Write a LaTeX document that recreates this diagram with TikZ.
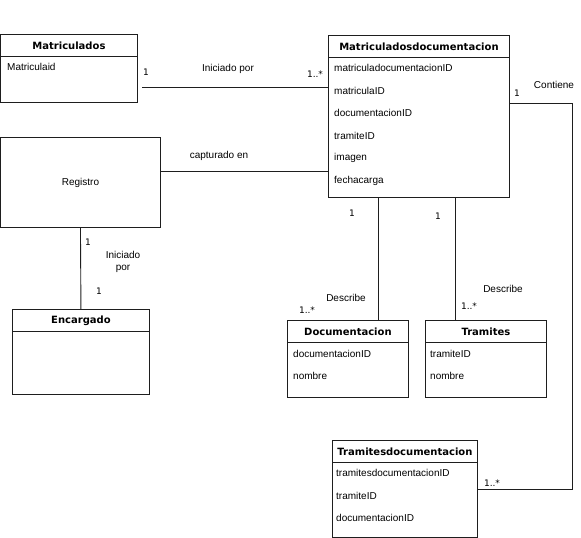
\documentclass[tikz,border=0pt]{standalone}
\usepackage{fontspec}
\setmainfont{Liberation Sans}
\newfontfamily\vfont{DejaVu Sans}
\usepackage{tikz}
\usetikzlibrary{calc,positioning}
\definecolor{ink}{RGB}{30,30,30}
\tikzset{
  ent/.style={draw=ink,line width=0.9pt,anchor=north west,inner sep=0pt,
    font=\fontsize{10}{12}\selectfont},
  hdr/.style={inner sep=0pt,font=\vfont\bfseries\fontsize{10}{12}\selectfont},
  attr/.style={anchor=west,inner sep=0pt,font=\fontsize{10}{12}\selectfont},
  rel/.style={draw=ink,line width=0.9pt},
  lbl/.style={inner sep=0pt,font=\fontsize{10}{12}\selectfont,align=center},
  mult/.style={inner sep=0pt,font=\vfont\fontsize{9}{11}\selectfont},
}
% name, x, y, width, height, title
\newcommand{\entbox}[6]{%
  \node[ent,minimum width=#4pt,minimum height=#5pt] (#1) at (#2,#3) {};
  \node[hdr] (#1t) at ($(#1.north)+(0,-11.5pt)$) {#6};
  \draw[rel] ($(#1.north west)+(0,-22.5pt)$) -- ($(#1.north east)+(0,-22.5pt)$);
}

\begin{document}
\begin{tikzpicture}[x=1pt,y=-1pt]
\useasboundingbox (0,0) rectangle (581,538);

% entities
\entbox{matr}{0}{34}{137}{68}{Matriculados}
\entbox{md}{328}{35}{181}{162}{Matriculadosdocumentacion}
\entbox{enc}{12}{309}{137}{85}{Encargado}
\entbox{doc}{287}{320}{121}{77}{Documentacion}
\entbox{tra}{425}{320}{121}{77}{Tramites}
\entbox{td}{332}{440}{145}{97}{Tramitesdocumentacion}
\node[ent,minimum width=160pt,minimum height=90pt] (reg) at (0,137) {Registro};

% attributes
\node[attr] (matr1) at (7,67) {Matriculaid};
\foreach \t [count=\i] in {matriculadocumentacionID,matriculaID,documentacionID,
    tramiteID,imagen,fechacarga}{
  \node[attr] (md\i) at (334,{68+(\i-1)*22.6}) {\t};}
\foreach \t [count=\i] in {documentacionID,nombre}{
  \node[attr] (doc\i) at (293,{354+(\i-1)*22}) {\t};}
\foreach \t [count=\i] in {tramiteID,nombre}{
  \node[attr] (tra\i) at (430,{354+(\i-1)*22}) {\t};}
\foreach \t [count=\i] in {tramitesdocumentacionID,tramiteID,documentacionID}{
  \node[attr] (td\i) at (336,{473+(\i-1)*22.5}) {\t};}

% relations
\coordinate (a1) at (142,87);
\draw[rel] (a1) -- (md.west |- a1);
\path ([yshift=11pt]reg.east) coordinate (c1);
\draw[rel] (c1) -- (md.west |- c1);
\draw[rel] (reg.south) -- (enc.north);
\draw[rel] ([xshift=30.5pt]doc.north) coordinate (d1) -- (d1 |- md.south);
\draw[rel] ([xshift=-30.5pt]tra.north) coordinate (t1) -- (t1 |- md.south);
\draw[rel] ([yshift=13pt]md.east) -| ([xshift=95pt]td.east) -- (td.east);

% labels
\node[mult] (m1) at (146,72) {1};
\node[lbl] (l1) at (228,69) {Iniciado por};
\node[mult] (m2) at (315,74) {1..*};
\node[mult] (m3) at (517,93) {1};
\node[lbl] (l2) at (554,85) {Contiene};
\node[lbl] (l3) at (219,156) {capturado en};
\node[mult] (m4) at (88,242) {1};
\node[lbl] (l4) at (123,262) {Iniciado\\por};
\node[mult] (m5) at (99,291) {1};
\node[mult] (m6) at (352,213) {1};
\node[lbl] (l5) at (346,298) {Describe};
\node[mult] (m7) at (307,310) {1..*};
\node[mult] (m8) at (438,216) {1};
\node[lbl] (l6) at (503,289) {Describe};
\node[mult] (m9) at (469,306) {1..*};
\node[mult] (m10) at (492,483) {1..*};
\end{tikzpicture}
\end{document}
